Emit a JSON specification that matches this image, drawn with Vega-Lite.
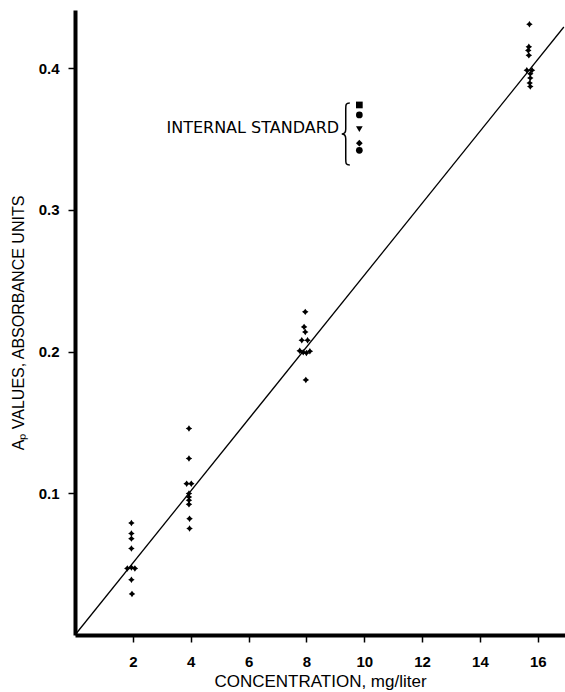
{
  "$schema": "https://vega.github.io/schema/vega-lite/v6.json",
  "width": 490,
  "height": 625,
  "autosize": {"type": "none"},
  "padding": {"left": 75, "top": 10, "right": 0, "bottom": 57},
  "background": "white",
  "config": {
    "view": {"stroke": null},
    "font": "Liberation Sans",
    "axis": {
      "domainColor": "black",
      "domainWidth": 4,
      "tickColor": "black",
      "tickWidth": 1.5,
      "tickSize": 7,
      "grid": false,
      "labelColor": "black",
      "labelFont": "Liberation Sans",
      "labelFontWeight": "bold",
      "labelFontSize": 15,
      "titleColor": "black",
      "titleFont": "Liberation Sans",
      "titleFontWeight": "normal",
      "titleFontSize": 16
    }
  },
  "datasets": {
    "samples": [
      {"conc": 1.95, "ap": 0.079},
      {"conc": 1.95, "ap": 0.0716},
      {"conc": 1.95, "ap": 0.068},
      {"conc": 1.95, "ap": 0.061},
      {"conc": 1.81, "ap": 0.047},
      {"conc": 1.95, "ap": 0.0476},
      {"conc": 2.07, "ap": 0.047},
      {"conc": 1.95, "ap": 0.039},
      {"conc": 1.97, "ap": 0.029},
      {"conc": 3.94, "ap": 0.1457},
      {"conc": 3.94, "ap": 0.1245},
      {"conc": 3.86, "ap": 0.1068},
      {"conc": 4.02, "ap": 0.1068},
      {"conc": 3.94, "ap": 0.0998},
      {"conc": 3.94, "ap": 0.0974},
      {"conc": 3.94, "ap": 0.0951},
      {"conc": 3.94, "ap": 0.0922},
      {"conc": 3.96, "ap": 0.0821},
      {"conc": 3.96, "ap": 0.0751},
      {"conc": 7.96, "ap": 0.228},
      {"conc": 7.92, "ap": 0.2174},
      {"conc": 7.96, "ap": 0.2138},
      {"conc": 7.84, "ap": 0.208},
      {"conc": 8.04, "ap": 0.208},
      {"conc": 7.77, "ap": 0.2005},
      {"conc": 7.89, "ap": 0.1995},
      {"conc": 8.0, "ap": 0.199},
      {"conc": 8.12, "ap": 0.2002},
      {"conc": 7.98, "ap": 0.18},
      {"conc": 15.71, "ap": 0.431},
      {"conc": 15.69, "ap": 0.415},
      {"conc": 15.67, "ap": 0.4125},
      {"conc": 15.69, "ap": 0.409},
      {"conc": 15.62, "ap": 0.3985},
      {"conc": 15.8, "ap": 0.3985},
      {"conc": 15.74, "ap": 0.396},
      {"conc": 15.74, "ap": 0.393},
      {"conc": 15.72, "ap": 0.3895},
      {"conc": 15.74, "ap": 0.387}
    ],
    "standards": [
      {"conc": 9.83, "ap": 0.374, "std": "A"},
      {"conc": 9.83, "ap": 0.367, "std": "B"},
      {"conc": 9.83, "ap": 0.357, "std": "C"},
      {"conc": 9.83, "ap": 0.347, "std": "D"},
      {"conc": 9.83, "ap": 0.342, "std": "E"}
    ],
    "fit": [
      {"conc": 0, "ap": 0},
      {"conc": 16.9, "ap": 0.429}
    ],
    "brace": [
      {"conc": 9.36, "ap": 0.3535}
    ],
    "label": [
      {"conc": 9.13, "ap": 0.3574, "text": "INTERNAL STANDARD"}
    ]
  },
  "layer": [
    {
      "data": {"name": "fit"},
      "mark": {"type": "line", "color": "black", "strokeWidth": 1.3},
      "encoding": {
        "x": {
          "field": "conc",
          "type": "quantitative",
          "scale": {"domain": [0, 16.94], "nice": false, "zero": false},
          "axis": {
            "values": [2, 4, 6, 8, 10, 12, 14, 16],
            "title": "CONCENTRATION, mg/liter",
            "labelPadding": 12,
            "titlePadding": 4,
            "titleFontSize": 17
          }
        },
        "y": {
          "field": "ap",
          "type": "quantitative",
          "scale": {"domain": [0, 0.441], "nice": false, "zero": false},
          "axis": {
            "values": [0.1, 0.2, 0.3, 0.4],
            "format": ".1f",
            "title": "Aₚ VALUES, ABSORBANCE UNITS",
            "labelPadding": 9,
            "titlePadding": 12
          }
        }
      }
    },
    {
      "data": {"name": "samples"},
      "mark": {
        "type": "point",
        "shape": "M0,-1L0.4,-0.4L1,0L0.4,0.4L0,1L-0.4,0.4L-1,0L-0.4,-0.4Z",
        "filled": true,
        "color": "black",
        "size": 42,
        "opacity": 1
      },
      "encoding": {
        "x": {"field": "conc", "type": "quantitative"},
        "y": {"field": "ap", "type": "quantitative"}
      }
    },
    {
      "data": {"name": "standards"},
      "mark": {"type": "point", "filled": true, "color": "black", "size": 45, "opacity": 1},
      "encoding": {
        "x": {"field": "conc", "type": "quantitative"},
        "y": {"field": "ap", "type": "quantitative"},
        "shape": {
          "field": "std",
          "type": "nominal",
          "scale": {"domain": ["A", "B", "C", "D", "E"], "range": ["square", "circle", "triangle-down", "diamond", "circle"]},
          "legend": null
        }
      }
    },
    {
      "data": {"name": "brace"},
      "mark": {
        "type": "point",
        "shape": "M0.13,-1C0,-1 0,-0.95 0,-0.8L0,-0.15C0,-0.05 -0.05,0 -0.13,0C-0.05,0 0,0.05 0,0.15L0,0.8C0,0.95 0,1 0.13,1",
        "filled": false,
        "color": "black",
        "strokeWidth": 1.5,
        "size": 3844,
        "opacity": 1
      },
      "encoding": {
        "x": {"field": "conc", "type": "quantitative"},
        "y": {"field": "ap", "type": "quantitative"}
      }
    },
    {
      "data": {"name": "label"},
      "mark": {"type": "text", "align": "right", "baseline": "middle", "font": "DejaVu Sans", "fontSize": 16, "color": "black"},
      "encoding": {
        "x": {"field": "conc", "type": "quantitative"},
        "y": {"field": "ap", "type": "quantitative"},
        "text": {"field": "text"}
      }
    }
  ]
}
